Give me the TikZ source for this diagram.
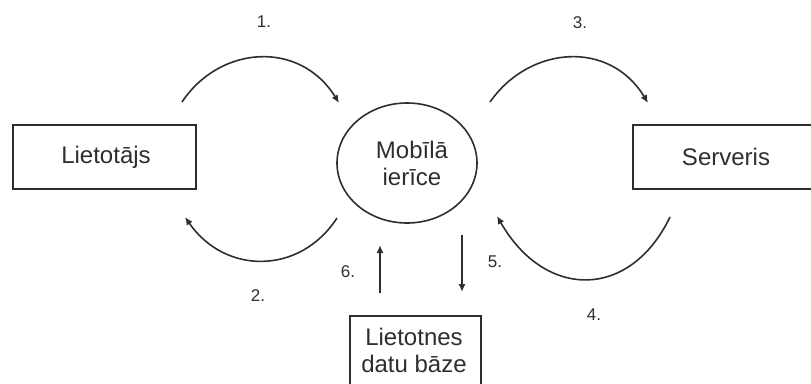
\documentclass[tikz,border=0pt]{standalone}
\usepackage{fontspec}
\setmainfont{Liberation Sans}
\usetikzlibrary{arrows.meta,shapes.geometric}
\definecolor{ink}{gray}{0.18}
\tikzset{
  box/.style={draw=ink, line width=1.6pt, minimum width=183pt, minimum height=64pt, inner sep=0pt},
  lbl/.style={font=\fontsize{24}{27}\selectfont, text=ink, align=center, inner sep=0pt},
  num/.style={font=\fontsize{17}{20}\selectfont, text=ink, inner sep=0pt},
  flow/.style={draw=ink, line width=1.6pt, -{Latex[length=8pt,width=7pt]}}
}
\begin{document}
\begin{tikzpicture}[x=1pt,y=-1pt]
  \useasboundingbox (0,0) rectangle (811,383);
  % main entities
  \node[box] (user) at (104.5,157) {};
  \node[lbl] at (106,157) {Lietotājs};
  \node[box] (server) at (724.5,157) {};
  \node[lbl] at (726,157) {Serveris};
  \node[draw=ink, line width=1.6pt, ellipse, minimum width=140pt, minimum height=120pt, inner sep=0pt] (device) at (407,163) {};
  \node[lbl] (devtext) at (412,163) {Mobīlā\\ierīce};
  \node[draw=ink, line width=1.6pt, minimum width=131pt, minimum height=80pt, inner sep=0pt, anchor=north west] (db) at (349,315) {};
  \node[lbl, anchor=base] at (414,345) {Lietotnes};
  \node[lbl, anchor=base] at (414,372) {datu bāze};
  % arrow end points
  \coordinate (a1s) at (182,102);  \coordinate (a1e) at (339,103);
  \coordinate (a2s) at (337,218);  \coordinate (a2e) at (185,217);
  \coordinate (a3s) at (490,102);  \coordinate (a3e) at (648,103);
  \coordinate (a4s) at (670,217);  \coordinate (a4e) at (497,216);
  \coordinate (a5s) at (462,235);  \coordinate (a5e) at (462,292);
  \coordinate (a6s) at (380,293);  \coordinate (a6e) at (380,245);
  % curved flows
  \draw[flow] (a1s) .. controls (220,45) and (300,40) .. (a1e);
  \draw[flow] (a2s) .. controls (300,275) and (225,275) .. (a2e);
  \draw[flow] (a3s) .. controls (530,45) and (610,40) .. (a3e);
  \draw[flow] (a4s) .. controls (630,300) and (545,300) .. (a4e);
  % database flows
  \draw[flow] (a5s) -- (a5e);
  \draw[flow] (a6s) -- (a6e);
  % step numbers
  \node[num] (n1) at (264,22) {1.};
  \node[num] (n2) at (258,296) {2.};
  \node[num] (n3) at (580,23) {3.};
  \node[num] (n4) at (594,315) {4.};
  \node[num] (n5) at (495,262) {5.};
  \node[num] (n6) at (348,272) {6.};
\end{tikzpicture}
\end{document}
